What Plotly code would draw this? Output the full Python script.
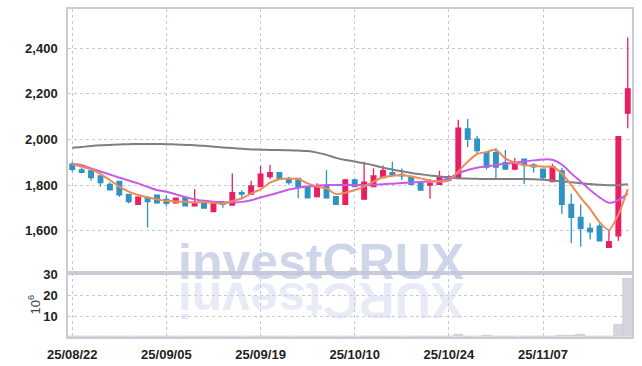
import plotly.graph_objects as go

dates = ["25/08/22", "25/08/25", "25/08/26", "25/08/27", "25/08/28", "25/08/29",
         "25/09/01", "25/09/02", "25/09/03", "25/09/04", "25/09/05",
         "25/09/08", "25/09/09", "25/09/10", "25/09/11", "25/09/12",
         "25/09/15", "25/09/16", "25/09/17", "25/09/18", "25/09/19",
         "25/09/22", "25/09/23", "25/09/24", "25/09/25", "25/09/26",
         "25/09/29", "25/09/30", "25/10/01", "25/10/02", "25/10/10",
         "25/10/13", "25/10/14", "25/10/15", "25/10/16", "25/10/17",
         "25/10/20", "25/10/21", "25/10/22", "25/10/23", "25/10/24",
         "25/10/27", "25/10/28", "25/10/29", "25/10/30", "25/10/31",
         "25/11/03", "25/11/04", "25/11/05", "25/11/06", "25/11/07",
         "25/11/10", "25/11/11", "25/11/12", "25/11/13", "25/11/14",
         "25/11/17", "25/11/18", "25/11/19", "25/11/20"]

opens = [1892, 1866, 1862, 1840, 1803, 1816, 1759, 1715, 1744, 1756,
         1737, 1722, 1744, 1709, 1720, 1683, 1722, 1712, 1766, 1760,
         1793, 1837, 1854, 1825, 1829, 1793, 1749, 1793, 1749, 1715,
         1822, 1738, 1793, 1832, 1854, 1847, 1837, 1807, 1800, 1803,
         1837, 1829, 2046, 2001, 1942, 1942, 1898, 1870, 1913, 1888,
         1869, 1815, 1862, 1715, 1658, 1610, 1620, 1526, 1577, 2115]
highs = [1902, 1875, 1869, 1842, 1812, 1818, 1761, 1749, 1750, 1758,
         1755, 1744, 1746, 1781, 1726, 1728, 1729, 1851, 1777, 1819,
         1884, 1888, 1856, 1836, 1831, 1796, 1808, 1866, 1752, 1826,
         1826, 1902, 1873, 1885, 1902, 1872, 1842, 1810, 1826, 1863,
         1845, 2086, 2089, 2016, 1945, 1962, 1954, 1918, 1915, 1895,
         1872, 1893, 1876, 1763, 1714, 1632, 1632, 1605, 2014, 2447]
lows = [1858, 1852, 1819, 1793, 1777, 1749, 1720, 1713, 1614, 1718,
        1707, 1718, 1707, 1706, 1696, 1681, 1700, 1710, 1740, 1757,
        1790, 1826, 1822, 1801, 1742, 1741, 1745, 1740, 1712, 1712,
        1790, 1735, 1790, 1830, 1838, 1822, 1800, 1775, 1740, 1800,
        1815, 1825, 1966, 1936, 1868, 1829, 1866, 1865, 1804, 1855,
        1822, 1812, 1673, 1544, 1529, 1561, 1552, 1524, 1555, 2049]
closes = [1869, 1855, 1832, 1810, 1779, 1757, 1727, 1747, 1727, 1722,
          1720, 1742, 1709, 1717, 1699, 1720, 1716, 1766, 1760, 1796,
          1848, 1854, 1825, 1810, 1793, 1744, 1793, 1744, 1715, 1822,
          1793, 1813, 1840, 1863, 1847, 1840, 1803, 1778, 1807, 1837,
          1822, 2049, 2001, 1951, 1878, 1878, 1870, 1898, 1888, 1880,
          1832, 1880, 1715, 1658, 1610, 1595, 1555, 1551, 2012, 2222]

ma_short = [1892, 1880, 1869, 1848, 1822, 1793, 1771, 1756, 1746, 1737,
            1731, 1728, 1726, 1724, 1724, 1722, 1718, 1730, 1741, 1763,
            1781, 1810, 1825, 1829, 1826, 1807, 1793, 1785, 1760, 1766,
            1778, 1793, 1815, 1834, 1840, 1844, 1837, 1829, 1819, 1815,
            1819, 1859, 1902, 1936, 1945, 1954, 1917, 1898, 1888, 1884,
            1880, 1880, 1850, 1800, 1745, 1695, 1637, 1602, 1670, 1782]
ma_mid = [1892, 1887, 1873, 1859, 1846, 1832, 1820, 1807, 1792, 1778,
          1770, 1759, 1747, 1737, 1731, 1727, 1725, 1723, 1726, 1733,
          1745, 1756, 1768, 1780, 1788, 1793, 1797, 1800, 1800, 1800,
          1799, 1800, 1801, 1803, 1806, 1809, 1811, 1813, 1815, 1818,
          1830, 1852, 1866, 1876, 1882, 1888, 1893, 1898, 1903, 1908,
          1912, 1911, 1890, 1851, 1815, 1778, 1746, 1722, 1734, 1763]
ma_long = [1963, 1967, 1971, 1974, 1976, 1978, 1979, 1980, 1980, 1980,
           1979, 1978, 1976, 1974, 1972, 1968, 1965, 1962, 1959, 1956,
           1955, 1954, 1953, 1952, 1951, 1949, 1942, 1932, 1919, 1910,
           1903, 1895, 1887, 1876, 1868, 1860, 1853, 1847, 1842, 1837,
           1833, 1830, 1828, 1827, 1826, 1826, 1826, 1826, 1826, 1825,
           1823, 1820, 1816, 1812, 1808, 1804, 1801, 1799, 1800, 1803]

volume = [0.1, 0.1, 0.1, 0.1, 0.1, 0.1, 0.1, 0.1, 0.1, 0.1,
          0.1, 0.1, 0.1, 0.1, 0.1, 0.1, 0.1, 0.1, 0.1, 0.1,
          0.4, 0.1, 0.1, 0.1, 0.1, 0.1, 0.1, 0.1, 0.1, 0.1,
          0.1, 0.4, 0.1, 0.1, 0.1, 0.1, 0.1, 0.1, 0.1, 0.1,
          0.1, 1.1, 0.4, 0.1, 0.5, 0.1, 0.1, 0.1, 0.1, 0.1,
          0.1, 0.1, 0.7, 0.7, 1.2, 0.1, 0.1, 0.1, 5.9, 27.8]

price_ticks = [1600, 1800, 2000, 2200, 2400]
vol_ticks = [10, 20, 30]
date_ticks = ["25/08/22", "25/09/05", "25/09/19", "25/10/10", "25/10/24", "25/11/07"]

UP = "#e91e63"
DOWN = "#2e93c4"
GRID = "#c3c8de"
AXLINE = "#cbcbd4"
FAMILY = "Liberation Sans, Arial, sans-serif"
TICKFONT = dict(family=FAMILY, size=13, color="#222222", weight="bold")
SPLIT = 0.1965

fig = go.Figure()

fig.add_trace(go.Bar(
    x=dates, y=volume, xaxis="x2", yaxis="y2", width=0.98,
    marker=dict(color="#d5d5dd", line=dict(width=0.6, color="#c4c4cc")),
    showlegend=False))

fig.add_trace(go.Candlestick(
    x=dates, open=opens, high=highs, low=lows, close=closes,
    xaxis="x", yaxis="y", whiskerwidth=0,
    increasing=dict(line=dict(color=UP, width=1.3), fillcolor=UP),
    decreasing=dict(line=dict(color=DOWN, width=1.3), fillcolor=DOWN),
    showlegend=False))

fig.add_trace(go.Scatter(x=dates, y=ma_long, mode="lines", xaxis="x", yaxis="y",
                         line=dict(color="#7f7f7f", width=2, shape="spline", smoothing=0.8),
                         showlegend=False))
fig.add_trace(go.Scatter(x=dates, y=ma_mid, mode="lines", xaxis="x", yaxis="y",
                         line=dict(color="#c95ae8", width=2, shape="spline", smoothing=0.8),
                         showlegend=False))
fig.add_trace(go.Scatter(x=dates, y=ma_short, mode="lines", xaxis="x", yaxis="y",
                         line=dict(color="#ee8a55", width=2, shape="spline", smoothing=0.6),
                         showlegend=False))

common_x = dict(type="category", range=[-0.45, 59.45], tickvals=date_ticks, ticktext=date_ticks,
                showgrid=True, gridcolor=GRID, griddash="dot", gridwidth=1,
                showline=True, mirror=True, linecolor=AXLINE, linewidth=1.5,
                ticks="", zeroline=False, fixedrange=True, automargin=False)

fig.update_layout(
    width=642, height=366,
    margin=dict(l=68, r=10, t=9, b=29),
    paper_bgcolor="white", plot_bgcolor="white",
    showlegend=False,
    xaxis=dict(common_x, anchor="y", showticklabels=False, rangeslider=dict(visible=False)),
    xaxis2=dict(common_x, anchor="y2", matches="x", showticklabels=True, tickfont=TICKFONT,
                ticklabelstandoff=5),
    yaxis=dict(domain=[SPLIT, 1], anchor="x", range=[1416, 2572], tickvals=price_ticks,
               tickformat=",", tickfont=TICKFONT, showgrid=True, gridcolor=GRID, griddash="dot",
               showline=True, mirror=True, linecolor=AXLINE, linewidth=1.5, ticks="",
               zeroline=False, ticklabelstandoff=6, automargin=False, fixedrange=True),
    yaxis2=dict(domain=[0, SPLIT], anchor="x2", range=[0, 30.8], tickvals=vol_ticks,
                tickfont=TICKFONT, showgrid=True, gridcolor=GRID, griddash="dot",
                showline=True, mirror=True, linecolor=AXLINE, linewidth=1.5, ticks="",
                zeroline=False, ticklabelstandoff=6, automargin=False, fixedrange=True,
                title=dict(text="10<sup>6</sup>", standoff=0,
                           font=dict(family=FAMILY, size=13, color="#444444"))),
    bargap=0,
)

wm_font = dict(family=FAMILY, size=50)
fig.add_annotation(text="<b>investCRUX</b>", xref="paper", yref="paper", x=0.4486, y=SPLIT,
                   xanchor="center", yanchor="middle", yshift=11, showarrow=False,
                   font=dict(wm_font, color="rgba(190,198,226,0.72)"))
fig.add_annotation(text="<b>XURCtsevni</b>", xref="paper", yref="paper", x=0.4486, y=SPLIT,
                   xanchor="center", yanchor="middle", yshift=-28, showarrow=False,
                   textangle=180,
                   font=dict(wm_font, color="rgba(205,210,232,0.45)"))

fig.write_html("out.html", config={"displayModeBar": False},
               post_script="document.body.style.margin='0px';")
